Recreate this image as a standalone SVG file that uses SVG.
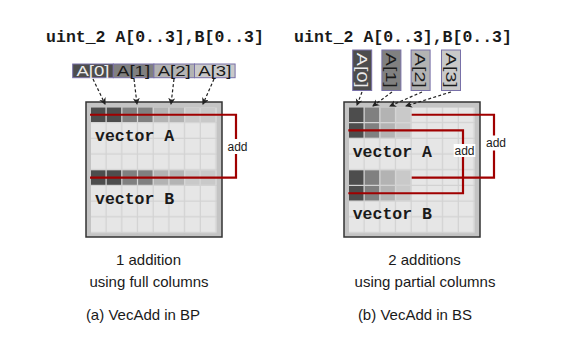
<svg xmlns="http://www.w3.org/2000/svg" width="565" height="364" viewBox="0 0 565 364">
<style>
.title{font-family:"Liberation Mono",monospace;font-weight:bold;font-size:16.5px;fill:#1a1a1a}
.vec{font-family:"Liberation Mono",monospace;font-weight:bold;font-size:16.5px;fill:#1a1a1a}
.lbl{font-family:"Liberation Sans",Arial,sans-serif;font-size:15.5px;text-anchor:middle}
.cap{font-family:"Liberation Sans",Arial,sans-serif;font-size:15px;text-anchor:middle;fill:#1a1a1a}
.add{font-family:"Liberation Sans",Arial,sans-serif;font-size:12px;text-anchor:middle;fill:#1a1a1a}
.lb{stroke:#7870a8;stroke-width:1}
.c0{fill:#4d4d4d}.c1{fill:#808080}.c2{fill:#b3b3b3}.c3{fill:#c9c9c9}
.tl{fill:#ececec}.td{fill:#1a1a1a}
.dash{fill:none;stroke:#222;stroke-width:1.2;stroke-dasharray:3,2.2}
.red{fill:none;stroke:#a00000;stroke-width:2.2}
</style>
<defs>
<pattern id="cells" patternUnits="userSpaceOnUse" x="5" y="5.5" width="15.7" height="15.7">
<rect width="14.5" height="14.5" fill="#e6e6e6"/>
</pattern>
<marker id="ah" markerUnits="userSpaceOnUse" markerWidth="8" markerHeight="8" refX="6" refY="3.5" orient="auto">
<path d="M0,0 L7,3.5 L0,7 L2,3.5 z" fill="#222"/>
</marker>
<g id="gridbase">
<rect x="0" y="0" width="136" height="135" fill="#c4c4c4" stroke="#333" stroke-width="1.5"/>
<rect x="5" y="5.5" width="125.6" height="125.6" fill="#d2d2d2"/>
<rect x="5" y="5.5" width="125.6" height="125.6" fill="url(#cells)"/>
</g>
</defs>
<rect width="565" height="364" fill="#fff"/>

<!-- Left panel -->
<g id="title-a"><text class="title" x="155" y="42" text-anchor="middle">uint_2 A[0..3],B[0..3]</text></g>
<g id="labels-a">
<rect class="c0 lb" x="72.7" y="64" width="40.6" height="13.7"/>
<rect class="c1 lb" x="113.3" y="64" width="40.6" height="13.7"/>
<rect class="c2 lb" x="153.9" y="64" width="40.6" height="13.7"/>
<rect class="c3 lb" x="194.5" y="64" width="40.6" height="13.7"/>
<text class="lbl tl" x="93" y="76.3" textLength="33" lengthAdjust="spacingAndGlyphs">A[0]</text>
<text class="lbl td" x="133.6" y="76.3" textLength="33" lengthAdjust="spacingAndGlyphs">A[1]</text>
<text class="lbl td" x="174.2" y="76.3" textLength="33" lengthAdjust="spacingAndGlyphs">A[2]</text>
<text class="lbl td" x="214.8" y="76.3" textLength="33" lengthAdjust="spacingAndGlyphs">A[3]</text>
</g>
<g id="grid-a" transform="translate(86,102)">
<use href="#gridbase"/>
<rect class="c0" x="5" y="5.5" width="14.5" height="14.5"/><rect class="c0" x="20.7" y="5.5" width="14.5" height="14.5"/>
<rect class="c1" x="36.4" y="5.5" width="14.5" height="14.5"/><rect class="c1" x="52.1" y="5.5" width="14.5" height="14.5"/>
<rect class="c2" x="67.8" y="5.5" width="14.5" height="14.5"/><rect class="c2" x="83.5" y="5.5" width="14.5" height="14.5"/>
<rect class="c3" x="99.2" y="5.5" width="14.5" height="14.5"/><rect class="c3" x="114.9" y="5.5" width="14.5" height="14.5"/>
<rect class="c0" x="5" y="68.3" width="14.5" height="14.5"/><rect class="c0" x="20.7" y="68.3" width="14.5" height="14.5"/>
<rect class="c1" x="36.4" y="68.3" width="14.5" height="14.5"/><rect class="c1" x="52.1" y="68.3" width="14.5" height="14.5"/>
<rect class="c2" x="67.8" y="68.3" width="14.5" height="14.5"/><rect class="c2" x="83.5" y="68.3" width="14.5" height="14.5"/>
<rect class="c3" x="99.2" y="68.3" width="14.5" height="14.5"/><rect class="c3" x="114.9" y="68.3" width="14.5" height="14.5"/>
<text class="vec" x="9" y="39">vector A</text>
<text class="vec" x="9" y="101.5">vector B</text>
</g>
<g id="caption-a">
<text class="cap" x="148.5" y="265">1 addition</text>
<text class="cap" x="149" y="286.5">using full columns</text>
<text class="cap" x="143" y="319.5">(a) VecAdd in BP</text>
</g>

<!-- Right panel -->
<g id="title-b"><text class="title" x="403" y="42" text-anchor="middle">uint_2 A[0..3],B[0..3]</text></g>
<g id="labels-b">
<rect class="c0 lb" x="352.7" y="50" width="19" height="40.5"/>
<rect class="c1 lb" x="381.9" y="50" width="19" height="40.5"/>
<rect class="c2 lb" x="411.1" y="50" width="19" height="40.5"/>
<rect class="c3 lb" x="441.5" y="50" width="19" height="40.5"/>
<text class="lbl tl" transform="translate(362.2,70.3) rotate(90)" y="5.5" textLength="35" lengthAdjust="spacingAndGlyphs">A[0]</text>
<text class="lbl td" transform="translate(391.4,70.3) rotate(90)" y="5.5" textLength="35" lengthAdjust="spacingAndGlyphs">A[1]</text>
<text class="lbl td" transform="translate(420.6,70.3) rotate(90)" y="5.5" textLength="35" lengthAdjust="spacingAndGlyphs">A[2]</text>
<text class="lbl td" transform="translate(451,70.3) rotate(90)" y="5.5" textLength="35" lengthAdjust="spacingAndGlyphs">A[3]</text>
</g>
<g id="grid-b" transform="translate(344,102)">
<use href="#gridbase"/>
<rect class="c0" x="5" y="5.5" width="14.5" height="14.5"/><rect class="c1" x="20.7" y="5.5" width="14.5" height="14.5"/>
<rect class="c2" x="36.4" y="5.5" width="14.5" height="14.5"/><rect class="c3" x="52.1" y="5.5" width="14.5" height="14.5"/>
<rect class="c0" x="5" y="21.2" width="14.5" height="14.5"/><rect class="c1" x="20.7" y="21.2" width="14.5" height="14.5"/>
<rect class="c2" x="36.4" y="21.2" width="14.5" height="14.5"/><rect class="c3" x="52.1" y="21.2" width="14.5" height="14.5"/>
<rect class="c0" x="5" y="68.3" width="14.5" height="14.5"/><rect class="c1" x="20.7" y="68.3" width="14.5" height="14.5"/>
<rect class="c2" x="36.4" y="68.3" width="14.5" height="14.5"/><rect class="c3" x="52.1" y="68.3" width="14.5" height="14.5"/>
<rect class="c0" x="5" y="84" width="14.5" height="14.5"/><rect class="c1" x="20.7" y="84" width="14.5" height="14.5"/>
<rect class="c2" x="36.4" y="84" width="14.5" height="14.5"/><rect class="c3" x="52.1" y="84" width="14.5" height="14.5"/>
<text class="vec" x="8.7" y="54.7">vector A</text>
<text class="vec" x="8.7" y="117">vector B</text>
</g>
<g id="caption-b">
<text class="cap" x="424.5" y="265">2 additions</text>
<text class="cap" x="425" y="286.5">using partial columns</text>
<text class="cap" x="415" y="319.5">(b) VecAdd in BS</text>
</g>

<!-- Connectors -->
<g id="connectors">
<path class="dash" marker-end="url(#ah)" d="M93,79 L105,104"/>
<path class="dash" marker-end="url(#ah)" d="M134,79 L137,104"/>
<path class="dash" marker-end="url(#ah)" d="M174,79 L171,104"/>
<path class="dash" marker-end="url(#ah)" d="M214,79 L203,104"/>
<path class="dash" marker-end="url(#ah)" d="M362,92 L357,105"/>
<path class="dash" marker-end="url(#ah)" d="M392,92 L373,106"/>
<path class="dash" marker-end="url(#ah)" d="M422,92 L390,106"/>
<path class="dash" marker-end="url(#ah)" d="M451,92 L406,106"/>
<path class="red" d="M90,114.75 H236 V177.55 H90"/>
<path class="red" d="M411.7,114.75 H494 V177.55 H411.7"/>
<path class="red" d="M348.3,130.45 H463 V193.25 H348.3"/>
</g>
<g id="add-labels">
<rect x="227.5" y="139" width="20" height="15" fill="#fff"/>
<text class="add" x="237.5" y="150.5">add</text>
<rect x="486" y="135.5" width="20" height="15" fill="#fff"/>
<text class="add" x="496" y="147">add</text>
<rect x="453.7" y="144" width="21.6" height="13" fill="#fff"/>
<text class="add" x="464.5" y="154.5">add</text>
</g>
</svg>
